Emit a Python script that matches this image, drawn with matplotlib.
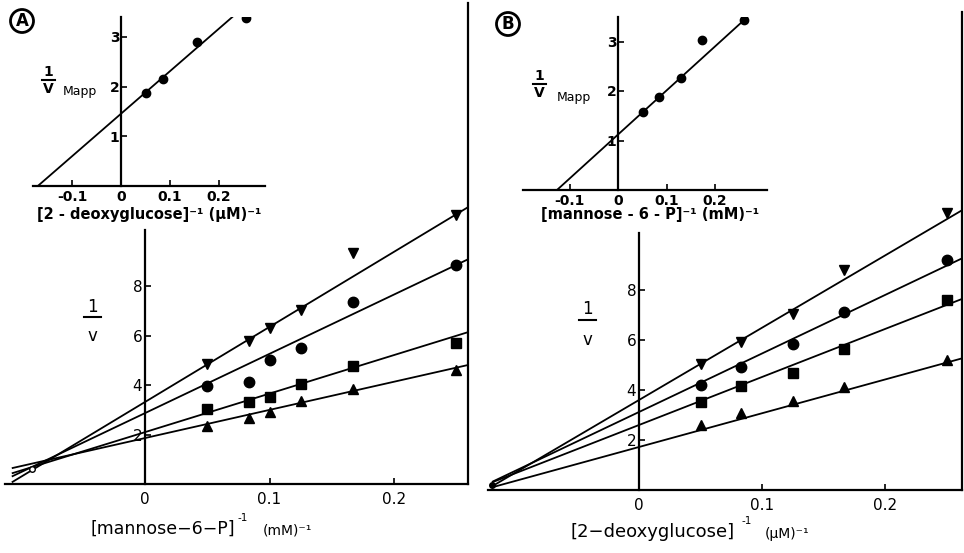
import numpy as np
import matplotlib
matplotlib.use("Agg")
import matplotlib.pyplot as plt
from matplotlib.lines import Line2D

# ---------------- data ----------------
# Panel A main: 1/v vs [mannose-6-P]^-1 (mM^-1)
A_x = [0.05, 0.0833, 0.1, 0.125, 0.1667, 0.25]
A_tri_down = [4.86, 5.79, 6.32, 7.04, 9.35, 10.89]
A_circle = [3.97, 4.13, 5.02, 5.51, 7.37, 8.87]
A_square = [3.04, 3.32, 3.52, 4.05, 4.78, 5.71]
A_tri_up = [2.35, 2.67, 2.91, 3.36, 3.85, 4.62]
A_fit_intercepts = [3.32, 2.87, 2.10, 1.86]
A_fit_slopes = [30.4, 24.0, 15.6, 11.4]
A_cross = (-0.091, 0.62)

# Panel A inset: 1/Vmapp vs [2-deoxyglucose]^-1 (uM^-1)
Ai_x = [0.05, 0.085, 0.155, 0.255]
Ai_y = [1.87, 2.15, 2.90, 3.39]
Ai_fit = (1.45, 8.6)

# Panel B main: 1/v vs [2-deoxyglucose]^-1 (uM^-1)
B_x = [0.05, 0.0833, 0.125, 0.1667, 0.25]
B_tri_down = [5.04, 5.92, 7.04, 8.80, 11.08]
B_circle = [4.20, 4.92, 5.84, 7.12, 9.20]
B_square = [3.52, 4.16, 4.68, 5.64, 7.60]
B_tri_up = [2.60, 3.08, 3.56, 4.12, 5.20]
B_fit_intercepts = [3.60, 3.12, 2.60, 1.72]
B_fit_slopes = [28.9, 23.4, 19.2, 13.5]

# Panel B inset: 1/Vmapp vs [mannose-6-P]^-1 (mM^-1)
Bi_x = [0.052, 0.085, 0.13, 0.173, 0.26]
Bi_y = [1.58, 1.88, 2.26, 3.03, 3.43]
Bi_fit = (1.12, 8.9)

main_xticks = [0, 0.1, 0.2]
main_xticklabels = ["0", "0.1", "0.2"]
main_yticks = [2, 4, 6, 8]
inset_xticks = [-0.1, 0, 0.1, 0.2]
inset_xticklabels = ["-0.1", "0", "0.1", "0.2"]
inset_yticks = [1, 2, 3]

# ---------------- layout ----------------
W, H = 964, 553
fig = plt.figure(figsize=(W / 100, H / 100), dpi=100)
fig.patch.set_facecolor("white")


def axes_from_px(ox, sx, oy, sy, x_left, x_right, y_top):
    """Axes whose data origin sits at pixel (ox, oy) with sx px per x unit, sy px per y unit."""
    ax = fig.add_axes([x_left / W, 1 - oy / H, (x_right - x_left) / W, (oy - y_top) / H])
    ax.set_xlim((x_left - ox) / sx, (x_right - ox) / sx)
    ax.set_ylim(0, (oy - y_top) / sy)
    ax.patch.set_alpha(0)
    return ax


def fx(p):
    return p / W


def fy(p):
    return 1 - p / H


def style_main(ax, ytop_val):
    ax.spines["top"].set_visible(False)
    ax.spines["left"].set_position(("data", 0))
    ax.spines["left"].set_bounds(0, ytop_val)
    for s in ax.spines.values():
        s.set_linewidth(1.6)
    ax.set_xticks(main_xticks)
    ax.set_xticklabels(main_xticklabels)
    ax.set_yticks(main_yticks)
    ax.set_yticklabels([str(t) for t in main_yticks])
    ax.tick_params(axis="both", direction="in", length=4, width=1.2, labelsize=11, pad=6)
    ax.tick_params(axis="y", pad=2)
    ax.tick_params(right=False)


def style_inset(ax, ytop_val):
    ax.spines["top"].set_visible(False)
    ax.spines["right"].set_visible(False)
    ax.spines["left"].set_position(("data", 0))
    ax.spines["left"].set_bounds(0, ytop_val)
    for s in ax.spines.values():
        s.set_linewidth(1.6)
    ax.set_xticks(inset_xticks)
    ax.set_xticklabels(inset_xticklabels, fontweight="bold")
    ax.set_yticks(inset_yticks)
    ax.set_yticklabels([str(t) for t in inset_yticks], fontweight="bold")
    ax.tick_params(axis="both", direction="in", length=4, width=1.2, labelsize=10, pad=3)
    ax.tick_params(axis="y", pad=1)


mk = dict(color="black", linestyle="none", zorder=5)
lw = 1.3

# ---- Panel A main ----
axA = axes_from_px(145, 1245, 484, 24.7, 5, 468, 3)
style_main(axA, (484 - 230) / 24.7)
xl = np.array([-0.107, axA.get_xlim()[1]])
for b, m in zip(A_fit_intercepts, A_fit_slopes):
    axA.plot(xl, b + m * xl, color="black", lw=lw, solid_capstyle="butt")
axA.plot(A_x, A_tri_down, marker="v", ms=7.5, **mk)
axA.plot(A_x, A_circle, marker="o", ms=7.5, **mk)
axA.plot(A_x, A_square, marker="s", ms=6.5, **mk)
axA.plot(A_x, A_tri_up, marker="^", ms=6.5, **mk)
axA.plot([A_cross[0]], [A_cross[1]], marker="o", ms=4, mfc="white", mec="black", mew=1,
         linestyle="none", zorder=6)

# ---- Panel A inset ----
axAi = axes_from_px(121, 490, 185.5, 49.5, 33, 265, 17)
style_inset(axAi, (185.5 - 17) / 49.5)
xi = np.array([-Ai_fit[0] / Ai_fit[1], 0.239])
axAi.plot(xi, Ai_fit[0] + Ai_fit[1] * xi, color="black", lw=lw)
axAi.plot(Ai_x, Ai_y, marker="o", ms=6, **mk)

# ---- Panel B main ----
axB = axes_from_px(639, 1230, 490, 25.0, 488, 962, 12)
style_main(axB, (490 - 233) / 25.0)
xl = np.array([-0.1195, axB.get_xlim()[1]])
for b, m in zip(B_fit_intercepts, B_fit_slopes):
    axB.plot(xl, b + m * xl, color="black", lw=lw, solid_capstyle="butt")
axB.plot(B_x, B_tri_down, marker="v", ms=7.5, **mk)
axB.plot(B_x, B_circle, marker="o", ms=7.5, **mk)
axB.plot(B_x, B_square, marker="s", ms=6.5, **mk)
axB.plot(B_x, B_tri_up, marker="^", ms=6.5, **mk)
axB.plot([-0.1195], [0.2], marker="o", ms=4, **mk)

# ---- Panel B inset ----
axBi = axes_from_px(618, 485, 190, 49.5, 523, 767, 17)
style_inset(axBi, (190 - 17) / 49.5)
xi = np.array([-Bi_fit[0] / Bi_fit[1], 0.266])
axBi.plot(xi, Bi_fit[0] + Bi_fit[1] * xi, color="black", lw=lw)
axBi.plot(Bi_x, Bi_y, marker="o", ms=6, **mk)

# ---------------- texts ----------------
for (px, py, s) in [(22, 21, "A"), (508, 24, "B")]:
    fig.text(fx(px), fy(py), s, ha="center", va="center", fontsize=12, fontweight="bold",
             bbox=dict(boxstyle="circle,pad=0.15", fc="white", ec="black", lw=2))

fig.text(fx(149), fy(215), "[2 - deoxyglucose]⁻¹ (μM)⁻¹", ha="center", va="center",
         fontsize=10.5, fontweight="bold")
fig.text(fx(650), fy(214), "[mannose - 6 - P]⁻¹ (mM)⁻¹", ha="center", va="center",
         fontsize=10.5, fontweight="bold")


def frac_label(cx, y1, ybar, yv, letter, size, barw, bold=True):
    fig.text(fx(cx), fy(y1), "1", ha="center", va="center", fontsize=size,
             fontweight="bold" if bold else "normal")
    fig.add_artist(Line2D([fx(cx - barw / 2), fx(cx + barw / 2)], [fy(ybar), fy(ybar)],
                          color="black", lw=1.5, transform=fig.transFigure))
    fig.text(fx(cx), fy(yv), letter, ha="center", va="center", fontsize=size,
             fontweight="bold" if bold else "normal")


frac_label(48, 72, 80, 89, "V", 10, 13)
fig.text(fx(63), fy(91), "Mapp", ha="left", va="center", fontsize=9)
frac_label(539, 76, 84, 93, "V", 10, 13)
fig.text(fx(557), fy(97), "Mapp", ha="left", va="center", fontsize=9)

frac_label(92, 307, 317, 336, "v", 12, 17, bold=False)
frac_label(587, 309, 320, 340, "v", 12, 17, bold=False)

fig.text(fx(90), fy(529), "[mannose−6−P]", ha="left", va="center", fontsize=12.5)
fig.text(fx(237), fy(518), "-1", ha="left", va="center", fontsize=7.5)
fig.text(fx(263), fy(531), "(mM)⁻¹", ha="left", va="center", fontsize=10)

fig.text(fx(570), fy(532), "[2−deoxyglucose]", ha="left", va="center", fontsize=13)
fig.text(fx(742), fy(521), "-1", ha="left", va="center", fontsize=7.5)
fig.text(fx(765), fy(534), "(μM)⁻¹", ha="left", va="center", fontsize=10)

fig.savefig("out.png", dpi=100, facecolor="white")
